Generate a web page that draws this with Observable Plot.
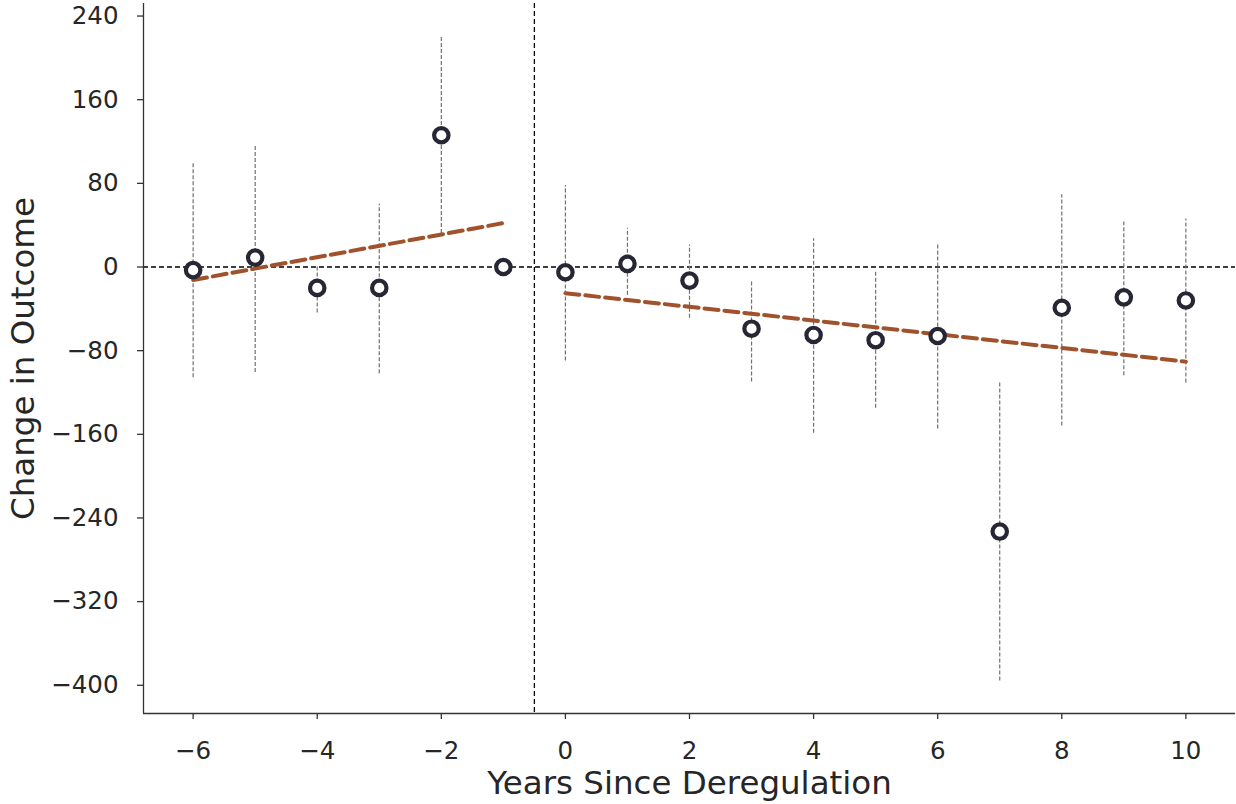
<!DOCTYPE html>
<html>
<head>
<meta charset="utf-8">
<script src="https://cdn.jsdelivr.net/npm/d3@7"></script>
<script src="https://cdn.jsdelivr.net/npm/@observablehq/plot@0.6"></script>
<style>
  html, body { margin: 0; padding: 0; background: white; }
  #chart { width: 1236px; height: 804px; }
</style>
</head>
<body>
<div id="chart"></div>
<script>
// Event-study estimates
const years     = [-6, -5, -4, -3, -2, -1, 0, 1, 2, 3, 4, 5, 6, 7, 8, 9, 10];
const estimates = [-3, 9, -20, -20, 126, 0, -5, 3, -13, -59, -65, -70, -66, -253, -39, -29, -32];
const ciLow     = [-106, -101, -44, -102, 32, null, -90, -27, -49, -110, -159, -135, -155, -396, -152, -104, -111];
const ciHigh    = [100, 116, 2, 60, 221, null, 78, 37, 21, -13, 27, -5, 21, -111, 69, 43, 46];

// Fitted trend lines (endpoints)
const preTrendX  = [-6, -1];
const preTrendY  = [-12.4, 42];
const postTrendX = [0, 10];
const postTrendY = [-25, -90.5];

const xTicks = [-6, -4, -2, 0, 2, 4, 6, 8, 10];
const yTicks = [-400, -320, -240, -160, -80, 0, 80, 160, 240];

const xLabel = "Years Since Deregulation";
const yLabel = "Change in Outcome";

const points = years.map((y, i) => ({year: y, est: estimates[i], lo: ciLow[i], hi: ciHigh[i]}));
const bars = points.filter(d => d.lo != null);
const pre = preTrendX.map((x, i) => ({x, y: preTrendY[i]}));
const post = postTrendX.map((x, i) => ({x, y: postTrendY[i]}));

const fmt = d => d < 0 ? "\u2212" + Math.abs(d) : String(d);
const xDom = [-6.8, 10.8];
const yDom = [-427, 252];

const chart = Plot.plot({
  width: 1236,
  height: 804,
  marginLeft: 143,
  marginRight: 1,
  marginTop: 3,
  marginBottom: 91,
  style: {fontFamily: "'DejaVu Sans', sans-serif", fontSize: "24.5px", color: "#262626", background: "white"},
  x: {domain: xDom, label: null},
  y: {domain: yDom, label: null},
  marks: [
    Plot.ruleY([0], {stroke: "black", strokeWidth: 1.3, strokeDasharray: "5,3"}),
    Plot.ruleX([-0.5], {stroke: "black", strokeWidth: 1.3, strokeDasharray: "5,3"}),
    Plot.ruleX(bars, {x: "year", y1: "lo", y2: "hi", stroke: "#707070", strokeWidth: 1.2, strokeDasharray: "4,2"}),
    Plot.line(pre, {x: "x", y: "y", stroke: "#a0522d", strokeWidth: 4, strokeDasharray: "14,6"}),
    Plot.line(post, {x: "x", y: "y", stroke: "#a0522d", strokeWidth: 4, strokeDasharray: "14,6"}),
    Plot.dot(points, {x: "year", y: "est", r: 7.2, fill: "white", stroke: "#262634", strokeWidth: 4.2}),
    Plot.axisX({ticks: xTicks, tickFormat: fmt, tickSize: 6, tickPadding: 22, stroke: "#333", strokeWidth: 1.3, fontSize: 24.5, label: null}),
    Plot.axisY({ticks: yTicks, tickFormat: fmt, tickSize: 6, tickPadding: 19, stroke: "#333", strokeWidth: 1.3, fontSize: 24.5, label: null}),
    Plot.ruleX([xDom[0]], {stroke: "#333", strokeWidth: 1.3}),
    Plot.ruleY([yDom[0]], {stroke: "#333", strokeWidth: 1.3}),
    Plot.text([yLabel], {frameAnchor: "left", rotate: -90, dx: -110, textAnchor: "middle", lineAnchor: "bottom", fontSize: 32.5, fill: "#262626"}),
    Plot.text([xLabel], {frameAnchor: "bottom", dy: 80, textAnchor: "middle", lineAnchor: "bottom", fontSize: 32.5, fill: "#262626"})
  ]
});
document.getElementById("chart").appendChild(chart);
</script>
</body>
</html>
